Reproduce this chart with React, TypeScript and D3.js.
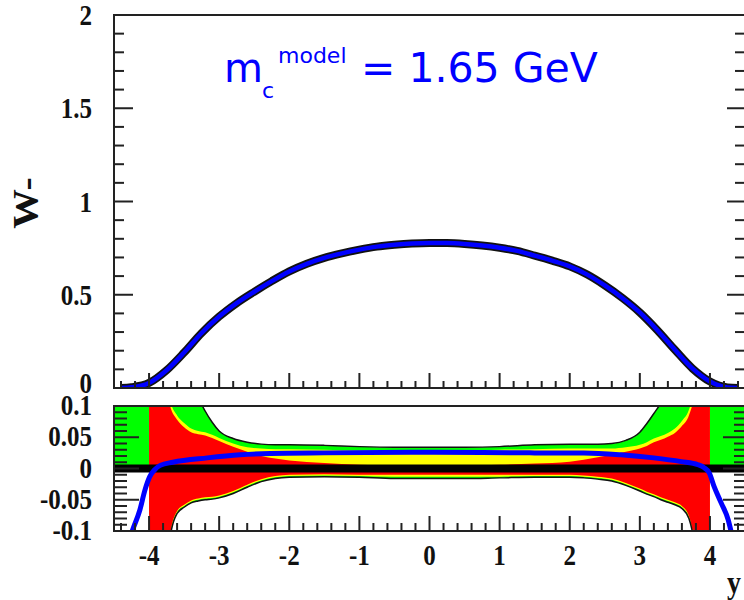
import React from 'react';
import * as d3 from 'd3';

// Top panel: W- distribution vs rapidity y
const wX = [-4.4, -4.25, -4.0, -3.75, -3.5, -3.25, -3.0, -2.75, -2.5, -2.25, -2.0, -1.75, -1.5, -1.25, -1.0, -0.75, -0.5, -0.25, 0, 0.25, 0.5, 0.75, 1.0, 1.25, 1.5, 1.75, 2.0, 2.25, 2.5, 2.75, 3.0, 3.25, 3.5, 3.75, 4.0, 4.25, 4.4];
const wY = [0.0, 0.004, 0.027, 0.095, 0.19, 0.295, 0.383, 0.455, 0.516, 0.573, 0.625, 0.666, 0.698, 0.722, 0.742, 0.758, 0.768, 0.775, 0.778, 0.777, 0.772, 0.764, 0.752, 0.735, 0.71, 0.683, 0.652, 0.608, 0.55, 0.483, 0.405, 0.31, 0.205, 0.105, 0.035, 0.003, 0.0];

// Bottom panel: uncertainty bands (relative)
const bandX = [-4.0, -3.9, -3.8, -3.7, -3.6, -3.5, -3.4, -3.3, -3.2, -3.1, -3.0, -2.8, -2.6, -2.4, -2.2, -2.0, -1.5, -1.0, -0.5, 0, 0.5, 1.0, 1.5, 2.0, 2.2, 2.4, 2.6, 2.8, 3.0, 3.1, 3.2, 3.3, 3.4, 3.5, 3.6, 3.7, 3.8, 3.9, 4.0];
const greenUp = [0.5, 0.45, 0.38, 0.3, 0.24, 0.19, 0.15, 0.115, 0.092, 0.074, 0.060, 0.048, 0.042, 0.039, 0.038, 0.038, 0.037, 0.035, 0.034, 0.034, 0.034, 0.035, 0.038, 0.039, 0.039, 0.039, 0.040, 0.045, 0.058, 0.072, 0.088, 0.105, 0.13, 0.17, 0.22, 0.28, 0.35, 0.42, 0.5];
const greenLow = [-0.5, -0.4, -0.25, -0.11, -0.072, -0.062, -0.055, -0.052, -0.05, -0.049, -0.047, -0.04, -0.03, -0.021, -0.016, -0.014, -0.013, -0.014, -0.016, -0.016, -0.016, -0.015, -0.014, -0.014, -0.015, -0.017, -0.02, -0.027, -0.036, -0.041, -0.045, -0.05, -0.054, -0.058, -0.064, -0.08, -0.14, -0.3, -0.5];
const yellowUp = [0.45, 0.3, 0.2, 0.11, 0.085, 0.073, 0.064, 0.060, 0.058, 0.054, 0.049, 0.040, 0.034, 0.032, 0.031, 0.031, 0.030, 0.029, 0.029, 0.029, 0.029, 0.030, 0.031, 0.032, 0.032, 0.032, 0.032, 0.034, 0.038, 0.042, 0.048, 0.052, 0.057, 0.064, 0.076, 0.094, 0.14, 0.25, 0.45];
const yellowLow = [-0.5, -0.4, -0.25, -0.108, -0.07, -0.06, -0.053, -0.05, -0.048, -0.047, -0.045, -0.038, -0.028, -0.019, -0.014, -0.012, -0.011, -0.012, -0.013, -0.013, -0.013, -0.013, -0.012, -0.012, -0.013, -0.015, -0.018, -0.025, -0.034, -0.039, -0.043, -0.048, -0.052, -0.056, -0.062, -0.078, -0.14, -0.3, -0.5];
const redUp = [0.4, 0.25, 0.16, 0.10, 0.078, 0.066, 0.058, 0.055, 0.053, 0.049, 0.044, 0.035, 0.027, 0.02, 0.016, 0.013, 0.009, 0.006, 0.005, 0.005, 0.005, 0.006, 0.008, 0.011, 0.014, 0.018, 0.022, 0.027, 0.032, 0.036, 0.042, 0.046, 0.051, 0.057, 0.068, 0.085, 0.13, 0.24, 0.4];
const redLow = [-0.5, -0.4, -0.25, -0.106, -0.068, -0.058, -0.051, -0.048, -0.046, -0.045, -0.043, -0.036, -0.026, -0.017, -0.012, -0.010, -0.009, -0.010, -0.010, -0.010, -0.010, -0.010, -0.010, -0.010, -0.011, -0.013, -0.016, -0.023, -0.032, -0.037, -0.041, -0.046, -0.050, -0.054, -0.060, -0.076, -0.14, -0.3, -0.5];
const outerGreenLeftX = [-4.5, -4.0];
const outerGreenRightX = [4.0, 4.5];
const outerGreenTop = 0.12;

// Bottom panel: blue model ratio
const ratioX = [-4.35, -4.24, -4.13, -4.06, -3.99, -3.92, -3.84, -3.66, -3.17, -2.7, -2.27, -1.5, 0, 1.5, 2.2, 2.73, 3.2, 3.59, 3.83, 3.92, 3.99, 4.06, 4.16, 4.26, 4.3, 4.36];
const ratioY = [-0.14, -0.1, -0.066, -0.035, -0.013, -0.002, 0.005, 0.010, 0.017, 0.022, 0.024, 0.025, 0.026, 0.025, 0.025, 0.022, 0.017, 0.011, 0.006, 0.001, -0.007, -0.029, -0.055, -0.082, -0.1, -0.13];

const xMajor = [-4, -3, -2, -1, 0, 1, 2, 3, 4];
const xLabels = ['-4', '-3', '-2', '-1', '0', '1', '2', '3', '4'];
const topYMajor = [0, 0.5, 1, 1.5, 2];
const topYLabels = ['0', '0.5', '1', '1.5', '2'];
const botYMajor = [0.1, 0.05, 0, -0.05, -0.1];
const botYLabels = ['0.1', '0.05', '0', '-0.05', '-0.1'];

export default function App() {
  const left = 114, right = 745;
  const x = d3.scaleLinear().domain([-4.5, 4.5]).range([left, right]);
  const yT = d3.scaleLinear().domain([0, 2]).range([388, 15]);
  const yB = d3.scaleLinear().domain([-0.1, 0.1]).range([531, 406]);

  const xMinor = d3.range(-44, 45, 2).map(v => v / 10).filter(v => Math.abs(v - Math.round(v)) > 1e-6);
  const topYMinor = d3.range(0, 21).map(v => v / 10).filter(v => Math.abs(v * 2 - Math.round(v * 2)) > 1e-6);
  const botYMinor = d3.range(-10, 11).map(v => v / 100).filter(v => Math.abs(v * 20 - Math.round(v * 20)) > 1e-6);

  const wLine = d3.line<number>().x((_, i) => x(wX[i])).y(d => yT(d)).curve(d3.curveMonotoneX);
  const band = (lo: number[], hi: number[]) =>
    d3.area<number>().x(d => x(d)).y0((_, i) => yB(lo[i])).y1((_, i) => yB(hi[i])).curve(d3.curveMonotoneX)(bandX) || '';
  const edge = (vals: number[]) =>
    d3.line<number>().x(d => x(d)).y((_, i) => yB(vals[i])).curve(d3.curveMonotoneX)(bandX) || '';
  const outer = (xs: number[]) =>
    d3.area<number>().x(d => x(d)).y0(yB(0)).y1(yB(outerGreenTop))(xs) || '';
  const ratioLine = d3.line<number>().x((_, i) => x(ratioX[i])).y(d => yB(d)).curve(d3.curveMonotoneX);

  const lab = { fontFamily: '"Liberation Serif", "Times New Roman", serif', fontWeight: 700, fontSize: 25, fill: '#111' } as const;
  const axisCol = '#222';

  return (
    <svg width={744} height={600} style={{ position: 'absolute', left: 0, top: 0, background: '#fff' }}>
      <defs>
        <clipPath id="clipTop"><rect x={left} y={15} width={right - left} height={373} /></clipPath>
        <clipPath id="clipBot"><rect x={left} y={406} width={right - left} height={125} /></clipPath>
      </defs>

      {/* Top panel curves */}
      <g clipPath="url(#clipTop)">
        <path d={wLine(wY) || ''} fill="none" stroke="#111" strokeWidth={8} />
        <path d={wLine(wY) || ''} fill="none" stroke="#0000ff" strokeWidth={4.5} />
      </g>

      {/* Bottom panel bands */}
      <g clipPath="url(#clipBot)">
        <path d={outer(outerGreenLeftX)} fill="#00ff00" />
        <path d={outer(outerGreenRightX)} fill="#00ff00" />
        <path d={band(greenLow, greenUp)} fill="#00ff00" />
        <path d={band(yellowLow, yellowUp)} fill="#ffff00" />
        <path d={band(redLow, redUp)} fill="#ff0000" />
        <path d={edge(greenUp)} fill="none" stroke="#111" strokeWidth={1.5} />
        <path d={edge(greenLow)} fill="none" stroke="#111" strokeWidth={1.5} />
        <line x1={left} x2={right} y1={yB(0)} y2={yB(0)} stroke="#000" strokeWidth={8} />
        <path d={ratioLine(ratioY) || ''} fill="none" stroke="#0000ff" strokeWidth={5} />
      </g>

      {/* Frames */}
      <rect x={left} y={15} width={right - left} height={373} fill="none" stroke={axisCol} strokeWidth={2} />
      <rect x={left} y={406} width={right - left} height={125} fill="none" stroke={axisCol} strokeWidth={2} />

      {/* Top panel ticks */}
      <g stroke={axisCol} strokeWidth={2}>
        {xMajor.map(v => <line key={'tM' + v} x1={x(v)} x2={x(v)} y1={388} y2={373} />)}
        {xMinor.map(v => <line key={'tm' + v} x1={x(v)} x2={x(v)} y1={388} y2={381} />)}
        {topYMajor.map(v => <line key={'tyM' + v} x1={left} x2={left + 19} y1={yT(v)} y2={yT(v)} />)}
        {topYMinor.map(v => <line key={'tym' + v} x1={left} x2={left + 10} y1={yT(v)} y2={yT(v)} />)}
        {topYMajor.map(v => <line key={'tyMr' + v} x1={right} x2={right - 18} y1={yT(v)} y2={yT(v)} />)}
        {topYMinor.map(v => <line key={'tymr' + v} x1={right} x2={right - 10} y1={yT(v)} y2={yT(v)} />)}
      </g>

      {/* Bottom panel ticks */}
      <g stroke={axisCol} strokeWidth={2}>
        {xMajor.map(v => <line key={'bM' + v} x1={x(v)} x2={x(v)} y1={531} y2={516} />)}
        {xMinor.map(v => <line key={'bm' + v} x1={x(v)} x2={x(v)} y1={531} y2={523} />)}
        {botYMajor.map(v => <line key={'byM' + v} x1={left} x2={left + 25} y1={yB(v)} y2={yB(v)} />)}
        {botYMinor.map(v => <line key={'bym' + v} x1={left} x2={left + 13} y1={yB(v)} y2={yB(v)} />)}
        {botYMajor.map(v => <line key={'byMr' + v} x1={right} x2={right - 22} y1={yB(v)} y2={yB(v)} />)}
        {botYMinor.map(v => <line key={'bymr' + v} x1={right} x2={right - 11} y1={yB(v)} y2={yB(v)} />)}
      </g>

      {/* Tick labels */}
      {topYMajor.map((v, i) => (
        <text key={'tl' + v} transform={`translate(92,${yT(v) + (v === 0 ? 5 : 10)}) scale(1,1.15)`} textAnchor="end" style={lab}>{topYLabels[i]}</text>
      ))}
      {botYMajor.map((v, i) => (
        <text key={'bl' + v} transform={`translate(92,${yB(v) + 9}) scale(1,1.15)`} textAnchor="end" style={lab}>{botYLabels[i]}</text>
      ))}
      {xMajor.map((v, i) => (
        <text key={'xl' + v} transform={`translate(${x(v)},565) scale(1,1.15)`} textAnchor="middle" style={lab}>{xLabels[i]}</text>
      ))}

      {/* Axis titles */}
      <text transform="translate(734,593) scale(1,1.1)" textAnchor="middle" style={{ ...lab, fontSize: 28 }}>y</text>
      <text transform="translate(38,203) rotate(-90) scale(1.1,1)" textAnchor="middle" style={{ ...lab, fontSize: 36 }}>W-</text>

      {/* Model label */}
      <g fill="#0000ff" style={{ fontFamily: '"DejaVu Sans", sans-serif' }}>
        <text x={224} y={82} fontSize={40}>m</text>
        <text x={262} y={98} fontSize={22}>c</text>
        <text x={278} y={63} fontSize={22}>model</text>
        <text x={361} y={82} fontSize={41}>= 1.65 GeV</text>
      </g>
    </svg>
  );
}
